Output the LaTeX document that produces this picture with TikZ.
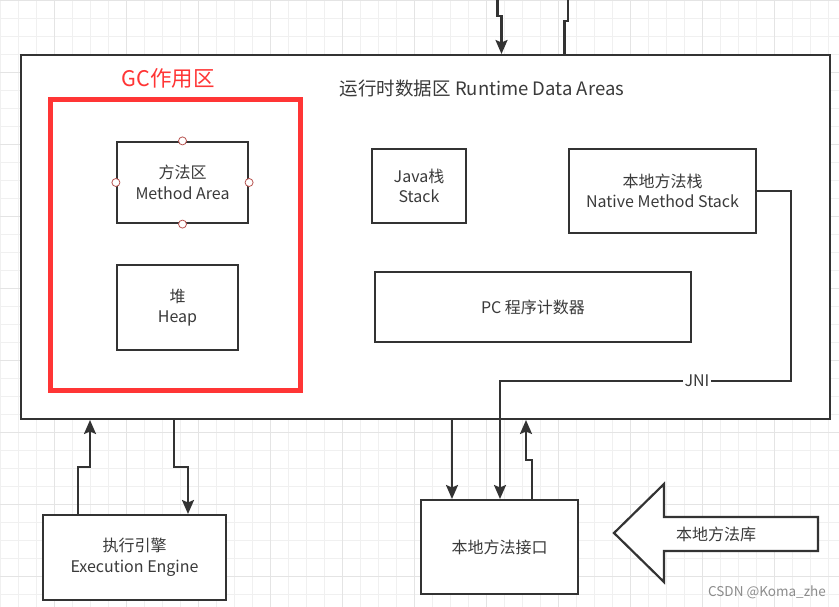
\documentclass[tikz,border=0pt]{standalone}
\usepackage{fontspec}
\setmainfont{Noto Sans CJK SC}
\usetikzlibrary{arrows.meta}
\definecolor{ink}{HTML}{333333}
\definecolor{txt}{HTML}{3A3A3A}
\definecolor{gcred}{HTML}{FF3535}
\definecolor{gridminor}{HTML}{F0F0F0}
\definecolor{gridmajor}{HTML}{E4E4E4}
\definecolor{portred}{HTML}{B85450}
\tikzset{
  box/.style={draw=ink, line width=2.2pt, fill=white, text=txt, align=center,
    inner sep=0pt, font=\fontsize{16}{20.5}\selectfont},
  conn/.style={draw=ink, line width=2.2pt},
  arr/.style={conn, -{Stealth[length=14pt,width=12pt,inset=2.5pt]}},
  port/.style={circle, draw=portred, fill=white, line width=0.8pt, inner sep=0pt, minimum size=8pt},
}
\begin{document}
\begin{tikzpicture}[x=1pt,y=-1pt]
\useasboundingbox (0,0) rectangle (839,607);
\fill[white] (0,0) rectangle (839,607);
% grid
\foreach \i in {0,18,...,846} \draw[gridminor, line width=0.8pt] (\i,0) -- (\i,607);
\foreach \j in {0,18,...,612} \draw[gridminor, line width=0.8pt] (0,\j) -- (839,\j);
\foreach \i in {54,126,...,846} \draw[gridmajor, line width=0.8pt] (\i,0) -- (\i,607);
\foreach \j in {0,72,...,612} \draw[gridmajor, line width=0.8pt] (0,\j) -- (839,\j);

% main box
\node[box, minimum width=809pt, minimum height=364pt] (main) at (425.5,237) {};
\node[text=txt, font=\fontsize{18.5}{22}\selectfont] (title) at (482,88) {运行时数据区 Runtime Data Areas};

% GC area
\node[draw=gcred, line width=5pt, minimum width=250pt, minimum height=291pt, inner sep=0pt] (gc) at (175.5,245) {};
\node[text=gcred, font=\fontsize{21.5}{24}\selectfont] (gclabel) at (168,78) {GC作用区};

% inner boxes
\node[box, minimum width=131pt, minimum height=81pt] (method) at (182.5,182.5) {方法区\\Method Area};
\foreach \a in {north,south,east,west} \node[port] (p\a) at (method.\a) {};
\node[box, minimum width=121pt, minimum height=85pt] (heap) at (177.5,307.5) {堆\\Heap};
\node[box, minimum width=94pt, minimum height=74pt] (java) at (419,186) {Java栈\\Stack};
\node[box, minimum width=187pt, minimum height=84pt] (native) at (662.5,191) {本地方法栈\\Native Method Stack};
\node[box, minimum width=316pt, minimum height=70pt] (pc) at (533,307) {PC 程序计数器};

% outer boxes
\node[box, minimum width=183pt, minimum height=85pt] (exec) at (134.5,557.5) {执行引擎\\Execution Engine};
\node[box, minimum width=157pt, minimum height=94pt] (jni) at (499.5,547) {本地方法接口};

% top connectors
\coordinate (t1) at (497.5,0);
\coordinate (t2) at (568,0);
\draw[arr] (t1) -- (497.5,16) -- (501.5,16) -- (501.5,55-1);
\draw[conn] (t2) -- (568,21) -- (564.5,21) -- (564.5,55);

% execution engine connectors
\draw[arr] (exec.north -| 78,0) -- (78,467) -- (90,467) -- (90,420);
\draw[arr] (main.south -| 174,0) -- (174,467) -- (188,467) -- (188,514);

% native interface connectors
\draw[arr] (main.south -| 452,0) -- (452,499);
\draw[arr] (jni.north -| 532,0) -- (532,460) -- (526,460) -- (526,420);
\draw[arr] (native.east |- 0,191) -- (791,191) -- (791,381) -- (500,381) -- (500,499);
\node[fill=white, text=txt, inner sep=1.5pt, font=\fontsize{16}{18}\selectfont] (jnilabel) at (697,381) {JNI};

% native library block arrow
\draw[draw=ink, line width=2.2pt, fill=white, line join=miter]
  (614,533) -- (664,484) -- (664,517) -- (818,517) -- (818,551) -- (664,551) -- (664,582) -- cycle;
\node[text=txt, font=\fontsize{16}{18}\selectfont] (lib) at (716,534) {本地方法库};

% watermark
\node[text=black!45, font=\fontsize{13.5}{15}\selectfont] (wm) at (767,592) {CSDN @Koma\_zhe};
\end{tikzpicture}
\end{document}
